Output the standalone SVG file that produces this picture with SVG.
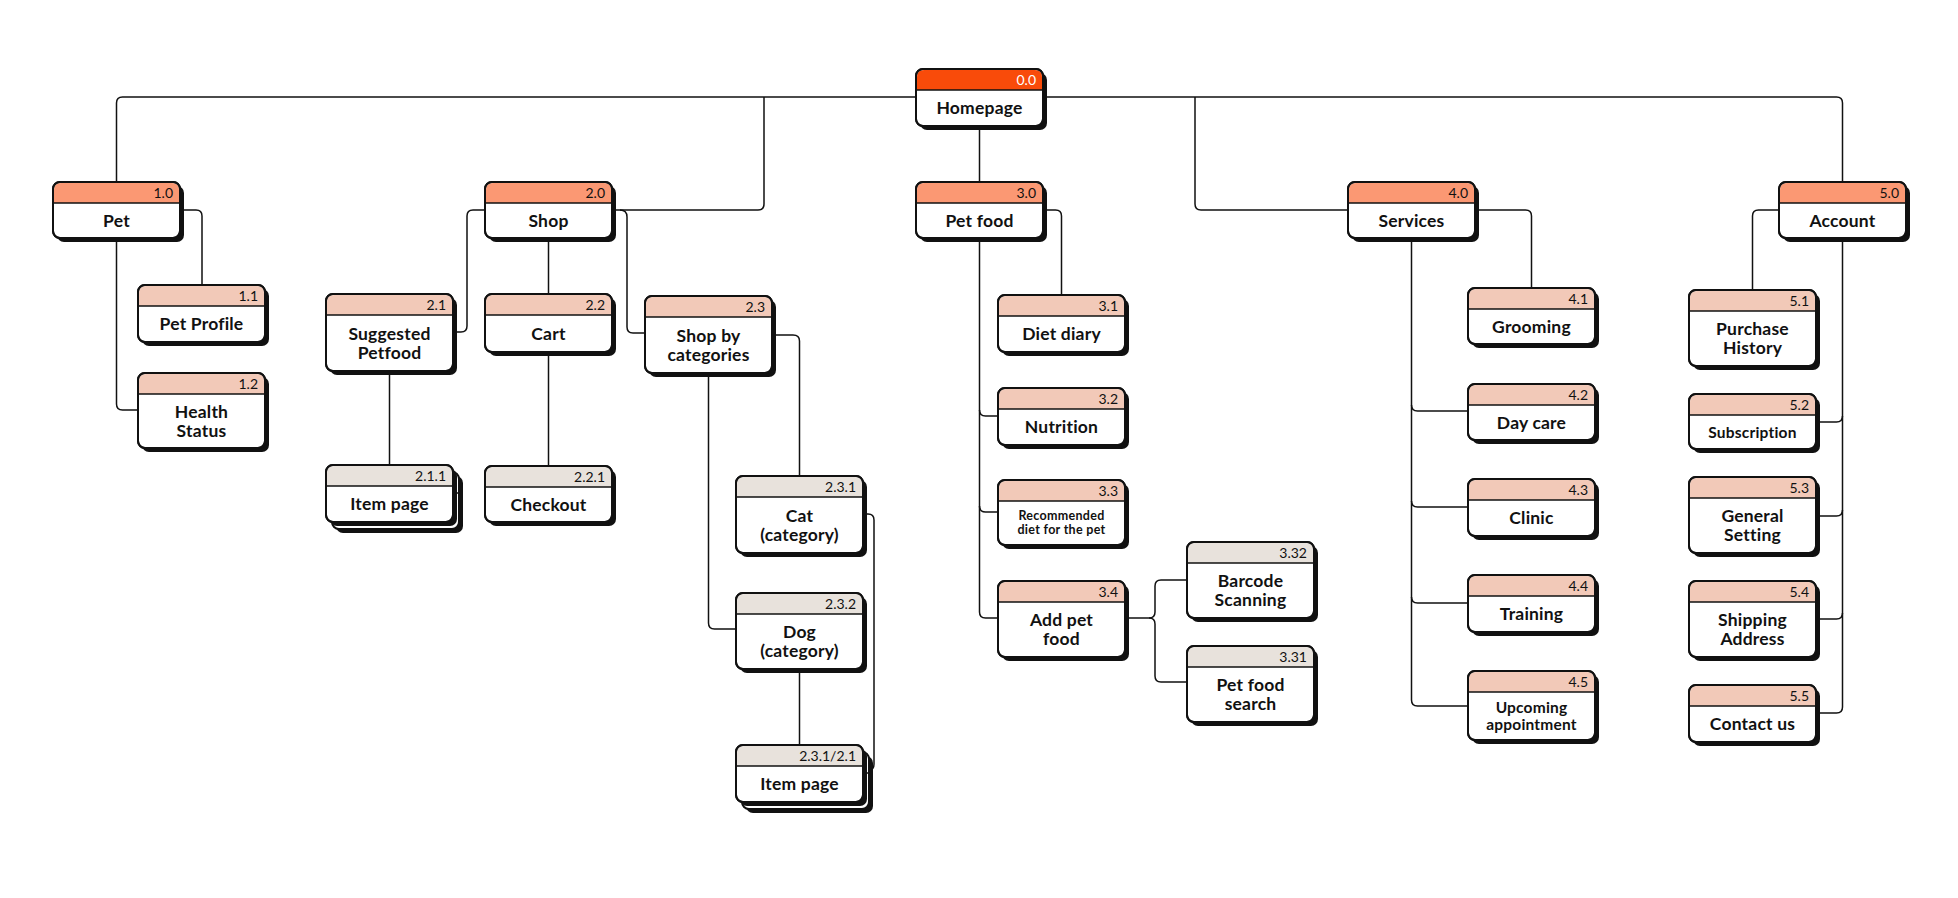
<svg xmlns="http://www.w3.org/2000/svg" xmlns:xlink="http://www.w3.org/1999/xlink" width="1958" height="898" viewBox="0 0 1958 898">
<style>
.bg{fill:#fff}
.ln{fill:none;stroke:#111;stroke-width:1.5}
.sh{fill:#111}
.bd{fill:#fff;stroke:#111;stroke-width:2}
.fr{fill:none;stroke:#111;stroke-width:2}
.dv{stroke:#111;stroke-width:1.5}
.c0{fill:#F94B0A}
.c1{fill:#FB9873}
.c2{fill:#F2C9B8}
.c3{fill:#E8E2DC}
.num{font-family:"Lato","Liberation Sans",sans-serif;font-size:14px;fill:#111;text-anchor:end}
.num0{fill:#fff}
.lb{font-family:"Lato","Liberation Sans",sans-serif;font-weight:700;font-size:17.5px;fill:#111;text-anchor:middle;letter-spacing:0.2px}
.sm{font-size:12.5px;letter-spacing:0.3px}
.md{font-size:15.5px}
</style>
<defs>
<path id="hdr" d="M1,21 V8 Q1,1 8,1 H119 Q126,1 126,8 V21 Z"/>
</defs>
<rect class="bg" width="1958" height="898"/>
<g id="connectors">
<path class="ln" d="M116.5,182 V103 Q116.5,97 122.5,97 H1836.5 Q1842.5,97 1842.5,103 V182"/>
<path class="ln" d="M979.5,126 V182"/>
<path class="ln" d="M764,97 V204 Q764,210 758,210 H612"/>
<path class="ln" d="M1195,97 V204 Q1195,210 1201,210 H1348"/>
<path class="ln" d="M180,210 H196 Q202,210 202,216 V285"/>
<path class="ln" d="M116.5,238 V404 Q116.5,410 122.5,410 H138"/>
<path class="ln" d="M485,210 H473 Q467,210 467,216 V326 Q467,332 461,332 H453"/>
<path class="ln" d="M620,210 Q627,210 627,217 V327 Q627,333 633,333 H645"/>
<path class="ln" d="M548.5,238 V294"/>
<path class="ln" d="M548.5,352 V466"/>
<path class="ln" d="M389.5,371 V465"/>
<path class="ln" d="M772,335 H793 Q799.5,335 799.5,341 V476"/>
<path class="ln" d="M708.5,373 V623 Q708.5,629 714.5,629 H736"/>
<path class="ln" d="M863,514 H868 Q874,514 874,520 V764 Q874,770 869,770"/>
<path class="ln" d="M799.5,669 V745"/>
<path class="ln" d="M1043,210 H1055.5 Q1061.5,210 1061.5,216 V295"/>
<path class="ln" d="M979.5,238 V612 Q979.5,618 985.5,618 H998"/>
<path class="ln" d="M979.5,410 Q979.5,416 985.5,416 H998"/>
<path class="ln" d="M979.5,506 Q979.5,512 985.5,512 H998"/>
<path class="ln" d="M1125,618 H1149 Q1155,618 1155,612 V586 Q1155,580 1161,580 H1187"/>
<path class="ln" d="M1149,618 Q1155,618 1155,624 V676 Q1155,682 1161,682 H1187"/>
<path class="ln" d="M1475,210 H1525.5 Q1531.5,210 1531.5,216 V288"/>
<path class="ln" d="M1411.5,238 V700 Q1411.5,706 1417.5,706 H1468"/>
<path class="ln" d="M1411.5,405 Q1411.5,411 1417.5,411 H1468"/>
<path class="ln" d="M1411.5,501 Q1411.5,507 1417.5,507 H1468"/>
<path class="ln" d="M1411.5,597 Q1411.5,603 1417.5,603 H1468"/>
<path class="ln" d="M1779,210 H1758.5 Q1752.5,210 1752.5,216 V290"/>
<path class="ln" d="M1842.5,238 V707 Q1842.5,713 1836.5,713 H1816"/>
<path class="ln" d="M1842.5,416 Q1842.5,422 1836.5,422 H1816"/>
<path class="ln" d="M1842.5,510 Q1842.5,516 1836.5,516 H1816"/>
<path class="ln" d="M1842.5,613 Q1842.5,619 1836.5,619 H1816"/>
</g>

<g id="n0-0" transform="translate(916,69)">
<rect class="sh" x="4" y="4" width="127" height="57" rx="7"/><rect class="bd" width="127" height="57" rx="7"/>
<use xlink:href="#hdr" class="c0"/><line class="dv" x1="0" y1="21" x2="127" y2="21"/><rect class="fr" width="127" height="57" rx="7"/>
<text class="num num0" x="120" y="16">0.0</text><text class="lb" x="63.5" y="45">Homepage</text></g>

<g id="n1-0" transform="translate(53,182)">
<rect class="sh" x="4" y="4" width="127" height="56" rx="7"/><rect class="bd" width="127" height="56" rx="7"/>
<use xlink:href="#hdr" class="c1"/><line class="dv" x1="0" y1="21" x2="127" y2="21"/><rect class="fr" width="127" height="56" rx="7"/>
<text class="num" x="120" y="16">1.0</text><text class="lb" x="63.5" y="44.5">Pet</text></g>

<g id="n2-0" transform="translate(485,182)">
<rect class="sh" x="4" y="4" width="127" height="56" rx="7"/><rect class="bd" width="127" height="56" rx="7"/>
<use xlink:href="#hdr" class="c1"/><line class="dv" x1="0" y1="21" x2="127" y2="21"/><rect class="fr" width="127" height="56" rx="7"/>
<text class="num" x="120" y="16">2.0</text><text class="lb" x="63.5" y="44.5">Shop</text></g>

<g id="n3-0" transform="translate(916,182)">
<rect class="sh" x="4" y="4" width="127" height="56" rx="7"/><rect class="bd" width="127" height="56" rx="7"/>
<use xlink:href="#hdr" class="c1"/><line class="dv" x1="0" y1="21" x2="127" y2="21"/><rect class="fr" width="127" height="56" rx="7"/>
<text class="num" x="120" y="16">3.0</text><text class="lb" x="63.5" y="44.5">Pet food</text></g>

<g id="n4-0" transform="translate(1348,182)">
<rect class="sh" x="4" y="4" width="127" height="56" rx="7"/><rect class="bd" width="127" height="56" rx="7"/>
<use xlink:href="#hdr" class="c1"/><line class="dv" x1="0" y1="21" x2="127" y2="21"/><rect class="fr" width="127" height="56" rx="7"/>
<text class="num" x="120" y="16">4.0</text><text class="lb" x="63.5" y="44.5">Services</text></g>

<g id="n5-0" transform="translate(1779,182)">
<rect class="sh" x="4" y="4" width="127" height="56" rx="7"/><rect class="bd" width="127" height="56" rx="7"/>
<use xlink:href="#hdr" class="c1"/><line class="dv" x1="0" y1="21" x2="127" y2="21"/><rect class="fr" width="127" height="56" rx="7"/>
<text class="num" x="120" y="16">5.0</text><text class="lb" x="63.5" y="44.5">Account</text></g>

<g id="n1-1" transform="translate(138,285)">
<rect class="sh" x="4" y="4" width="127" height="57" rx="7"/><rect class="bd" width="127" height="57" rx="7"/>
<use xlink:href="#hdr" class="c2"/><line class="dv" x1="0" y1="21" x2="127" y2="21"/><rect class="fr" width="127" height="57" rx="7"/>
<text class="num" x="120" y="16">1.1</text><text class="lb" x="63.5" y="45">Pet Profile</text></g>

<g id="n1-2" transform="translate(138,373)">
<rect class="sh" x="4" y="4" width="127" height="75" rx="7"/><rect class="bd" width="127" height="75" rx="7"/>
<use xlink:href="#hdr" class="c2"/><line class="dv" x1="0" y1="21" x2="127" y2="21"/><rect class="fr" width="127" height="75" rx="7"/>
<text class="num" x="120" y="16">1.2</text><text class="lb" x="63.5" y="44.5">Health</text><text class="lb" x="63.5" y="63.5">Status</text></g>

<g id="n2-1" transform="translate(326,294)">
<rect class="sh" x="4" y="4" width="127" height="77" rx="7"/><rect class="bd" width="127" height="77" rx="7"/>
<use xlink:href="#hdr" class="c2"/><line class="dv" x1="0" y1="21" x2="127" y2="21"/><rect class="fr" width="127" height="77" rx="7"/>
<text class="num" x="120" y="16">2.1</text><text class="lb" x="63.5" y="45.5">Suggested</text><text class="lb" x="63.5" y="64.5">Petfood</text></g>

<g id="n2-2" transform="translate(485,294)">
<rect class="sh" x="4" y="4" width="127" height="58" rx="7"/><rect class="bd" width="127" height="58" rx="7"/>
<use xlink:href="#hdr" class="c2"/><line class="dv" x1="0" y1="21" x2="127" y2="21"/><rect class="fr" width="127" height="58" rx="7"/>
<text class="num" x="120" y="16">2.2</text><text class="lb" x="63.5" y="45.5">Cart</text></g>

<g id="n2-1-1" transform="translate(326,465)">
<rect class="sh" x="10" y="11" width="127" height="57" rx="7"/><rect class="bd" x="6" y="7" width="127" height="57" rx="7"/><line class="dv" x1="127" y1="28" x2="133" y2="28"/>
<rect class="sh" x="4" y="4" width="127" height="57" rx="7"/><rect class="bd" width="127" height="57" rx="7"/>
<use xlink:href="#hdr" class="c3"/><line class="dv" x1="0" y1="21" x2="127" y2="21"/><rect class="fr" width="127" height="57" rx="7"/>
<text class="num" x="120" y="16">2.1.1</text><text class="lb" x="63.5" y="45">Item page</text></g>

<g id="n2-2-1" transform="translate(485,466)">
<rect class="sh" x="4" y="4" width="127" height="56" rx="7"/><rect class="bd" width="127" height="56" rx="7"/>
<use xlink:href="#hdr" class="c3"/><line class="dv" x1="0" y1="21" x2="127" y2="21"/><rect class="fr" width="127" height="56" rx="7"/>
<text class="num" x="120" y="16">2.2.1</text><text class="lb" x="63.5" y="44.5">Checkout</text></g>

<g id="n2-3" transform="translate(645,296)">
<rect class="sh" x="4" y="4" width="127" height="77" rx="7"/><rect class="bd" width="127" height="77" rx="7"/>
<use xlink:href="#hdr" class="c2"/><line class="dv" x1="0" y1="21" x2="127" y2="21"/><rect class="fr" width="127" height="77" rx="7"/>
<text class="num" x="120" y="16">2.3</text><text class="lb" x="63.5" y="45.5">Shop by</text><text class="lb" x="63.5" y="64.5">categories</text></g>

<g id="n2-3-1" transform="translate(736,476)">
<rect class="sh" x="4" y="4" width="127" height="77" rx="7"/><rect class="bd" width="127" height="77" rx="7"/>
<use xlink:href="#hdr" class="c3"/><line class="dv" x1="0" y1="21" x2="127" y2="21"/><rect class="fr" width="127" height="77" rx="7"/>
<text class="num" x="120" y="16">2.3.1</text><text class="lb" x="63.5" y="45.5">Cat</text><text class="lb" x="63.5" y="64.5">(category)</text></g>

<g id="n2-3-2" transform="translate(736,593)">
<rect class="sh" x="4" y="4" width="127" height="76" rx="7"/><rect class="bd" width="127" height="76" rx="7"/>
<use xlink:href="#hdr" class="c3"/><line class="dv" x1="0" y1="21" x2="127" y2="21"/><rect class="fr" width="127" height="76" rx="7"/>
<text class="num" x="120" y="16">2.3.2</text><text class="lb" x="63.5" y="45">Dog</text><text class="lb" x="63.5" y="64">(category)</text></g>

<g id="n2-3-1-2-1" transform="translate(736,745)">
<rect class="sh" x="10" y="11" width="127" height="57" rx="7"/><rect class="bd" x="6" y="7" width="127" height="57" rx="7"/><line class="dv" x1="127" y1="28" x2="133" y2="28"/>
<rect class="sh" x="4" y="4" width="127" height="57" rx="7"/><rect class="bd" width="127" height="57" rx="7"/>
<use xlink:href="#hdr" class="c3"/><line class="dv" x1="0" y1="21" x2="127" y2="21"/><rect class="fr" width="127" height="57" rx="7"/>
<text class="num" x="120" y="16">2.3.1/2.1</text><text class="lb" x="63.5" y="45">Item page</text></g>

<g id="n3-1" transform="translate(998,295)">
<rect class="sh" x="4" y="4" width="127" height="57" rx="7"/><rect class="bd" width="127" height="57" rx="7"/>
<use xlink:href="#hdr" class="c2"/><line class="dv" x1="0" y1="21" x2="127" y2="21"/><rect class="fr" width="127" height="57" rx="7"/>
<text class="num" x="120" y="16">3.1</text><text class="lb" x="63.5" y="45">Diet diary</text></g>

<g id="n3-2" transform="translate(998,388)">
<rect class="sh" x="4" y="4" width="127" height="57" rx="7"/><rect class="bd" width="127" height="57" rx="7"/>
<use xlink:href="#hdr" class="c2"/><line class="dv" x1="0" y1="21" x2="127" y2="21"/><rect class="fr" width="127" height="57" rx="7"/>
<text class="num" x="120" y="16">3.2</text><text class="lb" x="63.5" y="45">Nutrition</text></g>

<g id="n3-3" transform="translate(998,480)">
<rect class="sh" x="4" y="4" width="127" height="65" rx="7"/><rect class="bd" width="127" height="65" rx="7"/>
<use xlink:href="#hdr" class="c2"/><line class="dv" x1="0" y1="21" x2="127" y2="21"/><rect class="fr" width="127" height="65" rx="7"/>
<text class="num" x="120" y="16">3.3</text><text class="lb sm" x="63.5" y="40">Recommended</text><text class="lb sm" x="63.5" y="54">diet for the pet</text></g>

<g id="n3-4" transform="translate(998,581)">
<rect class="sh" x="4" y="4" width="127" height="76" rx="7"/><rect class="bd" width="127" height="76" rx="7"/>
<use xlink:href="#hdr" class="c2"/><line class="dv" x1="0" y1="21" x2="127" y2="21"/><rect class="fr" width="127" height="76" rx="7"/>
<text class="num" x="120" y="16">3.4</text><text class="lb" x="63.5" y="45">Add pet</text><text class="lb" x="63.5" y="64">food</text></g>

<g id="n3-32" transform="translate(1187,542)">
<rect class="sh" x="4" y="4" width="127" height="76" rx="7"/><rect class="bd" width="127" height="76" rx="7"/>
<use xlink:href="#hdr" class="c3"/><line class="dv" x1="0" y1="21" x2="127" y2="21"/><rect class="fr" width="127" height="76" rx="7"/>
<text class="num" x="120" y="16">3.32</text><text class="lb" x="63.5" y="45">Barcode</text><text class="lb" x="63.5" y="64">Scanning</text></g>

<g id="n3-31" transform="translate(1187,646)">
<rect class="sh" x="4" y="4" width="127" height="76" rx="7"/><rect class="bd" width="127" height="76" rx="7"/>
<use xlink:href="#hdr" class="c3"/><line class="dv" x1="0" y1="21" x2="127" y2="21"/><rect class="fr" width="127" height="76" rx="7"/>
<text class="num" x="120" y="16">3.31</text><text class="lb" x="63.5" y="45">Pet food</text><text class="lb" x="63.5" y="64">search</text></g>

<g id="n4-1" transform="translate(1468,288)">
<rect class="sh" x="4" y="4" width="127" height="56" rx="7"/><rect class="bd" width="127" height="56" rx="7"/>
<use xlink:href="#hdr" class="c2"/><line class="dv" x1="0" y1="21" x2="127" y2="21"/><rect class="fr" width="127" height="56" rx="7"/>
<text class="num" x="120" y="16">4.1</text><text class="lb" x="63.5" y="44.5">Grooming</text></g>

<g id="n4-2" transform="translate(1468,384)">
<rect class="sh" x="4" y="4" width="127" height="56" rx="7"/><rect class="bd" width="127" height="56" rx="7"/>
<use xlink:href="#hdr" class="c2"/><line class="dv" x1="0" y1="21" x2="127" y2="21"/><rect class="fr" width="127" height="56" rx="7"/>
<text class="num" x="120" y="16">4.2</text><text class="lb" x="63.5" y="44.5">Day care</text></g>

<g id="n4-3" transform="translate(1468,479)">
<rect class="sh" x="4" y="4" width="127" height="57" rx="7"/><rect class="bd" width="127" height="57" rx="7"/>
<use xlink:href="#hdr" class="c2"/><line class="dv" x1="0" y1="21" x2="127" y2="21"/><rect class="fr" width="127" height="57" rx="7"/>
<text class="num" x="120" y="16">4.3</text><text class="lb" x="63.5" y="45">Clinic</text></g>

<g id="n4-4" transform="translate(1468,575)">
<rect class="sh" x="4" y="4" width="127" height="57" rx="7"/><rect class="bd" width="127" height="57" rx="7"/>
<use xlink:href="#hdr" class="c2"/><line class="dv" x1="0" y1="21" x2="127" y2="21"/><rect class="fr" width="127" height="57" rx="7"/>
<text class="num" x="120" y="16">4.4</text><text class="lb" x="63.5" y="45">Training</text></g>

<g id="n4-5" transform="translate(1468,671)">
<rect class="sh" x="4" y="4" width="127" height="69" rx="7"/><rect class="bd" width="127" height="69" rx="7"/>
<use xlink:href="#hdr" class="c2"/><line class="dv" x1="0" y1="21" x2="127" y2="21"/><rect class="fr" width="127" height="69" rx="7"/>
<text class="num" x="120" y="16">4.5</text><text class="lb md" x="63.5" y="42">Upcoming</text><text class="lb md" x="63.5" y="58.5">appointment</text></g>

<g id="n5-1" transform="translate(1689,290)">
<rect class="sh" x="4" y="4" width="127" height="76" rx="7"/><rect class="bd" width="127" height="76" rx="7"/>
<use xlink:href="#hdr" class="c2"/><line class="dv" x1="0" y1="21" x2="127" y2="21"/><rect class="fr" width="127" height="76" rx="7"/>
<text class="num" x="120" y="16">5.1</text><text class="lb" x="63.5" y="45">Purchase</text><text class="lb" x="63.5" y="64">History</text></g>

<g id="n5-2" transform="translate(1689,394)">
<rect class="sh" x="4" y="4" width="127" height="55" rx="7"/><rect class="bd" width="127" height="55" rx="7"/>
<use xlink:href="#hdr" class="c2"/><line class="dv" x1="0" y1="21" x2="127" y2="21"/><rect class="fr" width="127" height="55" rx="7"/>
<text class="num" x="120" y="16">5.2</text><text class="lb md" x="63.5" y="43.5">Subscription</text></g>

<g id="n5-3" transform="translate(1689,477)">
<rect class="sh" x="4" y="4" width="127" height="76" rx="7"/><rect class="bd" width="127" height="76" rx="7"/>
<use xlink:href="#hdr" class="c2"/><line class="dv" x1="0" y1="21" x2="127" y2="21"/><rect class="fr" width="127" height="76" rx="7"/>
<text class="num" x="120" y="16">5.3</text><text class="lb" x="63.5" y="45">General</text><text class="lb" x="63.5" y="64">Setting</text></g>

<g id="n5-4" transform="translate(1689,581)">
<rect class="sh" x="4" y="4" width="127" height="76" rx="7"/><rect class="bd" width="127" height="76" rx="7"/>
<use xlink:href="#hdr" class="c2"/><line class="dv" x1="0" y1="21" x2="127" y2="21"/><rect class="fr" width="127" height="76" rx="7"/>
<text class="num" x="120" y="16">5.4</text><text class="lb" x="63.5" y="45">Shipping</text><text class="lb" x="63.5" y="64">Address</text></g>

<g id="n5-5" transform="translate(1689,685)">
<rect class="sh" x="4" y="4" width="127" height="57" rx="7"/><rect class="bd" width="127" height="57" rx="7"/>
<use xlink:href="#hdr" class="c2"/><line class="dv" x1="0" y1="21" x2="127" y2="21"/><rect class="fr" width="127" height="57" rx="7"/>
<text class="num" x="120" y="16">5.5</text><text class="lb" x="63.5" y="45">Contact us</text></g>
</svg>
